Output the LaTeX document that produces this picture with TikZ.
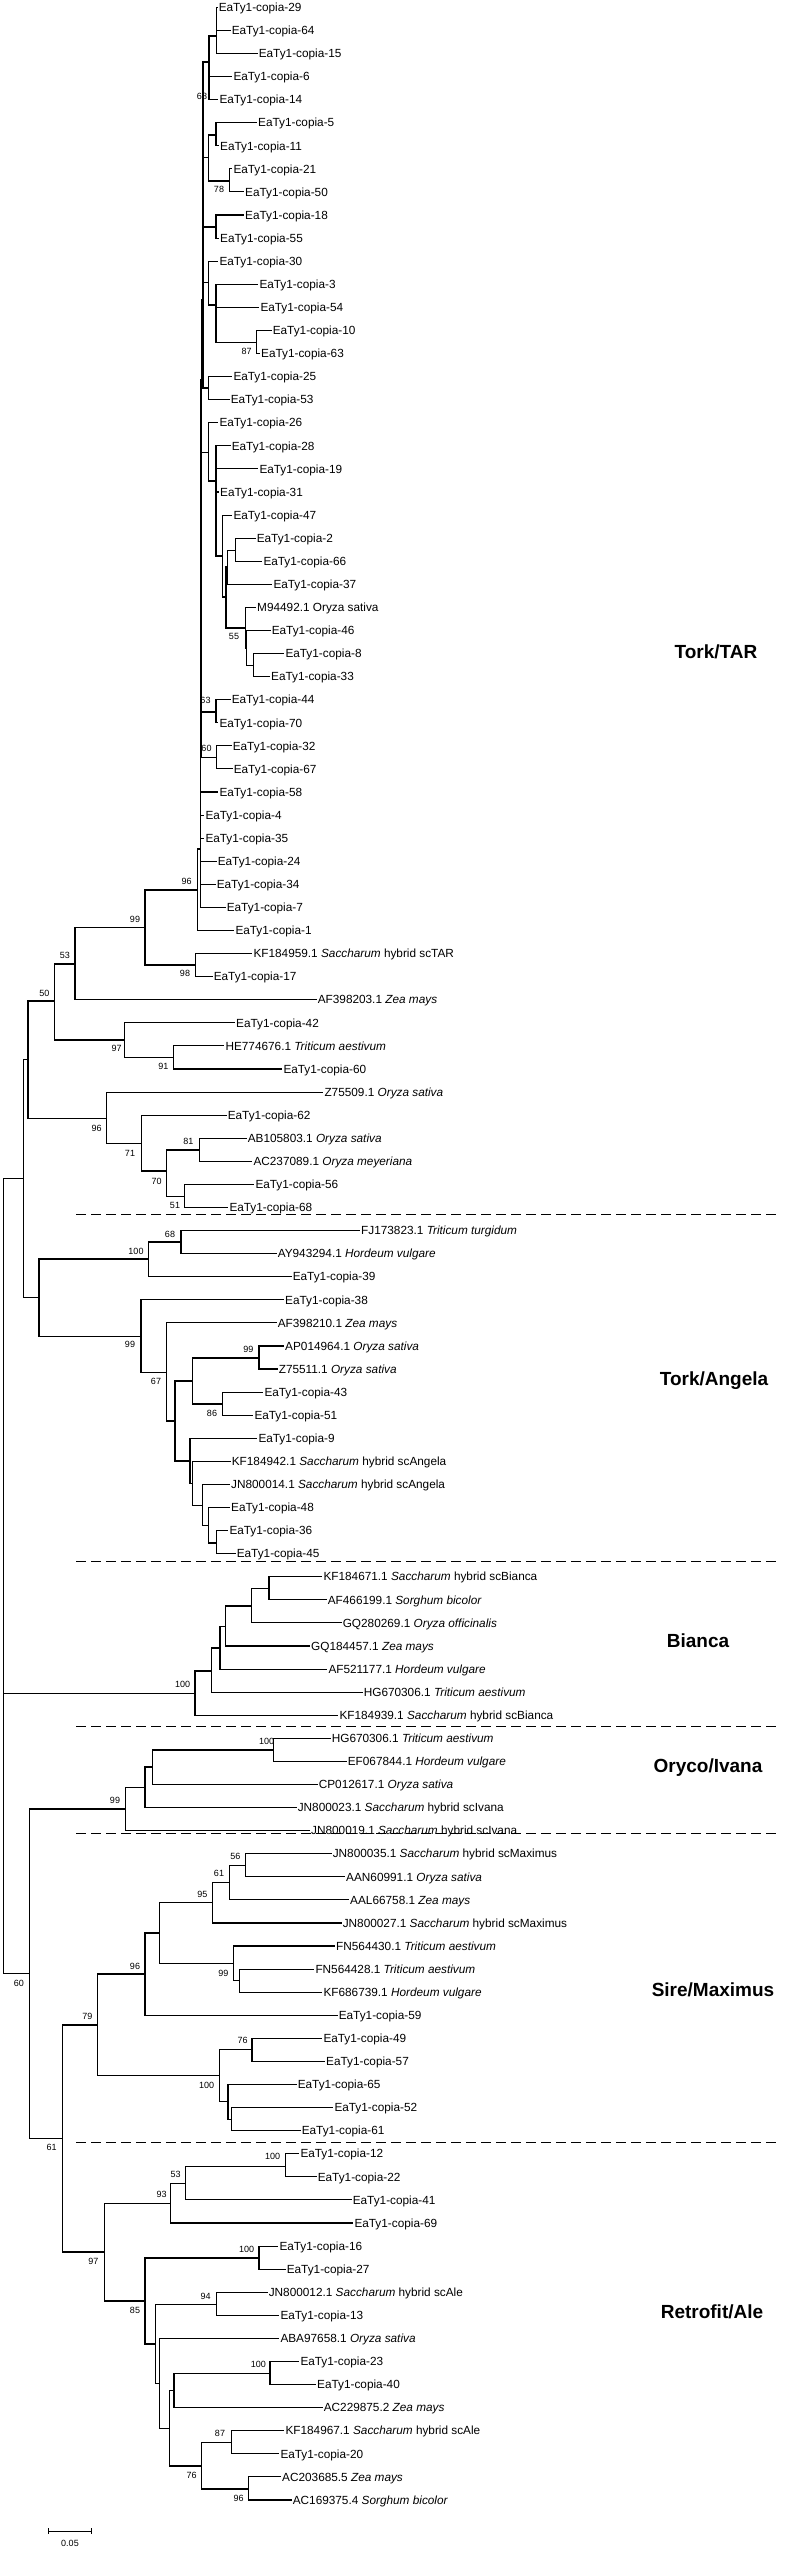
\documentclass[tikz,border=0pt]{standalone}
\usepackage{fontspec}
\setmainfont{Liberation Sans}
\newcommand{\tleaf}[4]{\coordinate (#1) at (#2,{23.08*#3-15.78});\node[lf] (#1t) at (#1) {#4};}
\newcommand{\inode}[3]{\coordinate (#1) at (#2,#3);}
\newcommand{\tbr}[2]{%
  \gdef\tfirst{}%
  \foreach \ch in {#2}{\ifx\tfirst\empty\xdef\tfirst{\ch}\fi\xdef\tlast{\ch}\draw[tl] (#1 |- \ch) -- (\ch);}%
  \draw[tl] (#1 |- \tfirst) -- (#1 |- \tlast);}
\newcounter{bsn}
\newcommand{\bsv}[3]{\stepcounter{bsn}\node[bsl] (bs\arabic{bsn}) at (#1,#2) {#3};}
\begin{document}
\begin{tikzpicture}[x=1pt,y=-1pt,
  tl/.style={line width=1.1pt,line cap=rect},
  lf/.style={anchor=west,inner xsep=1.6pt,inner ysep=0pt,text height=8.45pt,text depth=0pt,font=\fontsize{11.8}{13}\selectfont},
  bsl/.style={inner sep=0pt,text height=6.4pt,text depth=0pt,font=\fontsize{9}{10}\selectfont},
  clab/.style={inner sep=0pt,font=\fontsize{19}{22}\selectfont\bfseries},
  sep/.style={line width=1.3pt,dash pattern=on 10pt off 5pt}]
\useasboundingbox (0,0) rectangle (810,2550);
% ---------- leaves ----------
\tleaf{L29}{217}{1}{EaTy1-copia-29}
\tleaf{L64}{230}{2}{EaTy1-copia-64}
\tleaf{L15}{257}{3}{EaTy1-copia-15}
\tleaf{L6}{231.7}{4}{EaTy1-copia-6}
\tleaf{L14}{217.7}{5}{EaTy1-copia-14}
\tleaf{L5}{256.4}{6}{EaTy1-copia-5}
\tleaf{L11}{218.4}{7}{EaTy1-copia-11}
\tleaf{L21}{231.7}{8}{EaTy1-copia-21}
\tleaf{L50}{243.4}{9}{EaTy1-copia-50}
\tleaf{L18}{243.4}{10}{EaTy1-copia-18}
\tleaf{L55}{218.4}{11}{EaTy1-copia-55}
\tleaf{L30}{217.7}{12}{EaTy1-copia-30}
\tleaf{L3}{257.7}{13}{EaTy1-copia-3}
\tleaf{L54}{258.7}{14}{EaTy1-copia-54}
\tleaf{L10}{271}{15}{EaTy1-copia-10}
\tleaf{L63}{259.4}{16}{EaTy1-copia-63}
\tleaf{L25}{231.7}{17}{EaTy1-copia-25}
\tleaf{L53}{229}{18}{EaTy1-copia-53}
\tleaf{L26}{217.7}{19}{EaTy1-copia-26}
\tleaf{L28}{230}{20}{EaTy1-copia-28}
\tleaf{L19}{257.7}{21}{EaTy1-copia-19}
\tleaf{L31}{218.4}{22}{EaTy1-copia-31}
\tleaf{L47}{231.7}{23}{EaTy1-copia-47}
\tleaf{L2}{255}{24}{EaTy1-copia-2}
\tleaf{L66}{261.7}{25}{EaTy1-copia-66}
\tleaf{L37}{271.7}{26}{EaTy1-copia-37}
\tleaf{LMa}{255.4}{27}{M94492.1 Oryza sativa}
\tleaf{L46}{270}{28}{EaTy1-copia-46}
\tleaf{L8}{283.7}{29}{EaTy1-copia-8}
\tleaf{L33}{269.4}{30}{EaTy1-copia-33}
\tleaf{L44}{230}{31}{EaTy1-copia-44}
\tleaf{L70}{217.7}{32}{EaTy1-copia-70}
\tleaf{L32}{231}{33}{EaTy1-copia-32}
\tleaf{L67}{232}{34}{EaTy1-copia-67}
\tleaf{L58}{217.7}{35}{EaTy1-copia-58}
\tleaf{L4}{203.7}{36}{EaTy1-copia-4}
\tleaf{L35}{203.7}{37}{EaTy1-copia-35}
\tleaf{L24}{216}{38}{EaTy1-copia-24}
\tleaf{L34}{215}{39}{EaTy1-copia-34}
\tleaf{L7}{225}{40}{EaTy1-copia-7}
\tleaf{L1}{233.7}{41}{EaTy1-copia-1}
\tleaf{LKFa}{251.7}{42}{KF184959.1 \textit{Saccharum} hybrid scTAR}
\tleaf{L17}{212}{43}{EaTy1-copia-17}
\tleaf{LAFa}{316}{44}{AF398203.1 \textit{Zea mays}}
\tleaf{L42}{234.4}{45}{EaTy1-copia-42}
\tleaf{LHE}{223.7}{46}{HE774676.1 \textit{Triticum aestivum}}
\tleaf{L60}{281.7}{47}{EaTy1-copia-60}
\tleaf{LZa}{322.7}{48}{Z75509.1 \textit{Oryza sativa}}
\tleaf{L62}{226}{49}{EaTy1-copia-62}
\tleaf{LAB}{246}{50}{AB105803.1 \textit{Oryza sativa}}
\tleaf{LACa}{251.7}{51}{AC237089.1 \textit{Oryza meyeriana}}
\tleaf{L56}{253.7}{52}{EaTy1-copia-56}
\tleaf{L68}{227.7}{53}{EaTy1-copia-68}
\tleaf{LFJ}{359.4}{54}{FJ173823.1 \textit{Triticum turgidum}}
\tleaf{LAY}{276}{55}{AY943294.1 \textit{Hordeum vulgare}}
\tleaf{L39}{291}{56}{EaTy1-copia-39}
\tleaf{L38}{283.4}{57}{EaTy1-copia-38}
\tleaf{LAFb}{276}{58}{AF398210.1 \textit{Zea mays}}
\tleaf{LAP}{283.4}{59}{AP014964.1 \textit{Oryza sativa}}
\tleaf{LZb}{277}{60}{Z75511.1 \textit{Oryza sativa}}
\tleaf{L43}{262.7}{61}{EaTy1-copia-43}
\tleaf{L51}{252.7}{62}{EaTy1-copia-51}
\tleaf{L9}{256.7}{63}{EaTy1-copia-9}
\tleaf{LKFb}{230}{64}{KF184942.1 \textit{Saccharum} hybrid scAngela}
\tleaf{LJNa}{229.4}{65}{JN800014.1 \textit{Saccharum} hybrid scAngela}
\tleaf{L48}{229.4}{66}{EaTy1-copia-48}
\tleaf{L36}{227.7}{67}{EaTy1-copia-36}
\tleaf{L45}{235}{68}{EaTy1-copia-45}
\tleaf{LKFc}{321.7}{69}{KF184671.1 \textit{Saccharum} hybrid scBianca}
\tleaf{LAFc}{326}{70}{AF466199.1 \textit{Sorghum bicolor}}
\tleaf{LGQa}{341}{71}{GQ280269.1 \textit{Oryza officinalis}}
\tleaf{LGQb}{309.4}{72}{GQ184457.1 \textit{Zea mays}}
\tleaf{LAFd}{326.7}{73}{AF521177.1 \textit{Hordeum vulgare}}
\tleaf{LHGa}{362}{74}{HG670306.1 \textit{Triticum aestivum}}
\tleaf{LKFd}{337.7}{75}{KF184939.1 \textit{Saccharum} hybrid scBianca}
\tleaf{LHGb}{330}{76}{HG670306.1 \textit{Triticum aestivum}}
\tleaf{LEF}{346}{77}{EF067844.1 \textit{Hordeum vulgare}}
\tleaf{LCP}{317}{78}{CP012617.1 \textit{Oryza sativa}}
\tleaf{LJNb}{296}{79}{JN800023.1 \textit{Saccharum} hybrid scIvana}
\tleaf{LJNc}{309.4}{80}{JN800019.1 \textit{Saccharum} hybrid scIvana}
\tleaf{LJNd}{331}{81}{JN800035.1 \textit{Saccharum} hybrid scMaximus}
\tleaf{LAAN}{344.4}{82}{AAN60991.1 \textit{Oryza sativa}}
\tleaf{LAAL}{348.4}{83}{AAL66758.1 \textit{Zea mays}}
\tleaf{LJNe}{341}{84}{JN800027.1 \textit{Saccharum} hybrid scMaximus}
\tleaf{LFNa}{334.4}{85}{FN564430.1 \textit{Triticum aestivum}}
\tleaf{LFNb}{313.7}{86}{FN564428.1 \textit{Triticum aestivum}}
\tleaf{LKFe}{321.7}{87}{KF686739.1 \textit{Hordeum vulgare}}
\tleaf{L59}{337}{88}{EaTy1-copia-59}
\tleaf{L49}{321.7}{89}{EaTy1-copia-49}
\tleaf{L57}{324.4}{90}{EaTy1-copia-57}
\tleaf{L65}{296}{91}{EaTy1-copia-65}
\tleaf{L52}{332.7}{92}{EaTy1-copia-52}
\tleaf{L61}{300}{93}{EaTy1-copia-61}
\tleaf{L12}{298.7}{94}{EaTy1-copia-12}
\tleaf{L22}{316}{95}{EaTy1-copia-22}
\tleaf{L41}{351}{96}{EaTy1-copia-41}
\tleaf{L69}{352.7}{97}{EaTy1-copia-69}
\tleaf{L16}{277.7}{98}{EaTy1-copia-16}
\tleaf{L27}{285}{99}{EaTy1-copia-27}
\tleaf{LJNf}{267}{100}{JN800012.1 \textit{Saccharum} hybrid scAle}
\tleaf{L13}{278.7}{101}{EaTy1-copia-13}
\tleaf{LABA}{278.7}{102}{ABA97658.1 \textit{Oryza sativa}}
\tleaf{L23}{298.7}{103}{EaTy1-copia-23}
\tleaf{L40}{315.4}{104}{EaTy1-copia-40}
\tleaf{LACb}{322}{105}{AC229875.2 \textit{Zea mays}}
\tleaf{LKFf}{283.7}{106}{KF184967.1 \textit{Saccharum} hybrid scAle}
\tleaf{L20}{278.7}{107}{EaTy1-copia-20}
\tleaf{LACc}{280.4}{108}{AC203685.5 \textit{Zea mays}}
\tleaf{LACd}{291}{109}{AC169375.4 \textit{Sorghum bicolor}}
% ---------- internal nodes ----------
\inode{a1}{216.7}{19.3}
\inode{a}{216.3}{36}
\inode{b}{209}{88.7}
\inode{c}{209}{62}
\inode{e}{208.3}{157.7}
\inode{d}{216}{135}
\inode{f}{229.3}{181}
\inode{nsx}{203}{110}
\inode{g}{216}{227}
\inode{j}{256.7}{342.3}
\inode{i}{216}{305}
\inode{h}{208.3}{282.7}
\inode{k}{208.3}{388}
\inode{sa}{203}{300}
\inode{t}{235.3}{550.3}
\inode{q}{227.3}{567}
\inode{s}{253.7}{665.7}
\inode{ra}{246.7}{648.3}
\inode{r}{245.3}{628}
\inode{p}{226}{597}
\inode{o}{222.7}{556}
\inode{m}{216}{481}
\inode{l}{208.3}{452.3}
\inode{sb}{201.7}{380}
\inode{u}{216}{712}
\inode{v}{216.7}{757.7}
\inode{sc}{201}{600}
\inode{sd}{200.3}{849}
\inode{nA}{197.5}{890}
\inode{nB}{195.7}{965}
\inode{nC}{145}{927.7}
\inode{nD}{75}{964}
\inode{nE}{173.3}{1057.7}
\inode{nF}{124.7}{1040}
\inode{nG}{54.3}{1001}
\inode{nH}{199.7}{1150}
\inode{nI}{184.3}{1196.7}
\inode{nJ}{166.7}{1171}
\inode{nK}{141.7}{1143.3}
\inode{nL}{106.7}{1118.3}
\inode{nX}{28}{1059.7}
\inode{nU}{23.3}{1178.7}
\inode{aa}{181}{1242}
\inode{ab}{148.3}{1259}
\inode{ac}{259}{1358}
\inode{ad}{222.3}{1404}
\inode{ae}{192.3}{1381}
\inode{af}{216.7}{1543}
\inode{ag}{208.3}{1525.8}
\inode{ah}{202.7}{1505.5}
\inode{ai}{192.7}{1483.4}
\inode{aj}{190}{1461}
\inode{ak}{175}{1421}
\inode{al}{166.3}{1372.5}
\inode{am}{141}{1336.6}
\inode{nW}{39}{1297.8}
\inode{be}{269}{1588.7}
\inode{bd}{251.7}{1606}
\inode{bc}{225.3}{1626.3}
\inode{bb}{220}{1648}
\inode{ba}{211.7}{1671}
\inode{bz}{195}{1693.5}
\inode{oc}{273.7}{1750}
\inode{ob}{152.3}{1767}
\inode{oa}{145}{1787.3}
\inode{oz}{125.7}{1809}
\inode{ma}{245.7}{1865.3}
\inode{mb}{229.3}{1882.5}
\inode{mc}{212.7}{1902.7}
\inode{md}{239.3}{1980.5}
\inode{me}{233.3}{1963.2}
\inode{mf}{159.7}{1933}
\inode{mg}{145}{1974}
\inode{mh}{252}{2049.9}
\inode{mi}{231.7}{2119.2}
\inode{mj}{228}{2101.8}
\inode{mk}{219.7}{2075.9}
\inode{mz}{97.7}{2025}
\inode{ra1}{285.3}{2166.4}
\inode{ra2}{185.3}{2183.3}
\inode{ra3}{170.7}{2203.3}
\inode{ra4}{259}{2258}
\inode{ra5}{216.7}{2304.6}
\inode{ra6}{270}{2373.5}
\inode{ra7}{174}{2390.7}
\inode{ra8}{231.7}{2442.9}
\inode{ra9}{248.7}{2489}
\inode{rb1}{201.7}{2466}
\inode{rb2}{169.3}{2428.4}
\inode{rb3}{159.3}{2383.6}
\inode{rb4}{155.7}{2344}
\inode{rb5}{145}{2301}
\inode{rb6}{104.7}{2252}
\inode{nM}{62.7}{2138.5}
\inode{nN}{29.7}{1973.8}
\inode{root}{3.3}{1576}
% ---------- branches (children listed top to bottom) ----------
\tbr{a1}{L29,L64}
\tbr{a}{a1,L15}
\tbr{b}{L6,L14}
\tbr{c}{a,b}
\tbr{d}{L5,L11}
\tbr{f}{L21,L50}
\tbr{e}{d,f}
\tbr{nsx}{c,e}
\tbr{g}{L18,L55}
\tbr{j}{L10,L63}
\tbr{i}{L3,L54,j}
\tbr{h}{L30,i}
\tbr{k}{L25,L53}
\tbr{sa}{nsx,g,h,k}
\tbr{t}{L2,L66}
\tbr{q}{t,L37}
\tbr{s}{L8,L33}
\tbr{ra}{L46,s}
\tbr{r}{LMa,ra}
\tbr{p}{q,r}
\tbr{o}{L47,p}
\tbr{m}{L28,L19,L31,o}
\tbr{l}{L26,m}
\tbr{sb}{sa,l}
\tbr{u}{L44,L70}
\tbr{v}{L32,L67}
\tbr{sc}{sb,u,v}
\tbr{sd}{sc,L58,L4,L35,L24,L34,L7}
\tbr{nA}{sd,L1}
\tbr{nB}{LKFa,L17}
\tbr{nC}{nA,nB}
\tbr{nD}{nC,LAFa}
\tbr{nE}{LHE,L60}
\tbr{nF}{L42,nE}
\tbr{nG}{nD,nF}
\tbr{nH}{LAB,LACa}
\tbr{nI}{L56,L68}
\tbr{nJ}{nH,nI}
\tbr{nK}{L62,nJ}
\tbr{nL}{LZa,nK}
\tbr{nX}{nG,nL}
\tbr{aa}{LFJ,LAY}
\tbr{ab}{aa,L39}
\tbr{ac}{LAP,LZb}
\tbr{ad}{L43,L51}
\tbr{ae}{ac,ad}
\tbr{af}{L36,L45}
\tbr{ag}{L48,af}
\tbr{ah}{LJNa,ag}
\tbr{ai}{LKFb,ah}
\tbr{aj}{L9,ai}
\tbr{ak}{ae,aj}
\tbr{al}{LAFb,ak}
\tbr{am}{L38,al}
\tbr{nW}{ab,am}
\tbr{nU}{nX,nW}
\tbr{be}{LKFc,LAFc}
\tbr{bd}{be,LGQa}
\tbr{bc}{bd,LGQb}
\tbr{bb}{bc,LAFd}
\tbr{ba}{bb,LHGa}
\tbr{bz}{ba,LKFd}
\tbr{oc}{LHGb,LEF}
\tbr{ob}{oc,LCP}
\tbr{oa}{ob,LJNb}
\tbr{oz}{oa,LJNc}
\tbr{ma}{LJNd,LAAN}
\tbr{mb}{ma,LAAL}
\tbr{mc}{mb,LJNe}
\tbr{md}{LFNb,LKFe}
\tbr{me}{LFNa,md}
\tbr{mf}{mc,me}
\tbr{mg}{mf,L59}
\tbr{mh}{L49,L57}
\tbr{mi}{L52,L61}
\tbr{mj}{L65,mi}
\tbr{mk}{mh,mj}
\tbr{mz}{mg,mk}
\tbr{ra1}{L12,L22}
\tbr{ra2}{ra1,L41}
\tbr{ra3}{ra2,L69}
\tbr{ra4}{L16,L27}
\tbr{ra5}{LJNf,L13}
\tbr{ra6}{L23,L40}
\tbr{ra7}{ra6,LACb}
\tbr{ra8}{LKFf,L20}
\tbr{ra9}{LACc,LACd}
\tbr{rb1}{ra8,ra9}
\tbr{rb2}{ra7,rb1}
\tbr{rb3}{LABA,rb2}
\tbr{rb4}{ra5,rb3}
\tbr{rb5}{ra4,rb4}
\tbr{rb6}{ra3,rb5}
\tbr{nM}{mz,rb6}
\tbr{nN}{oz,nM}
\tbr{root}{nU,bz,nN}
% ---------- bootstrap values ----------
\bsv{202}{96.7}{68}
\bsv{219}{189.3}{78}
\bsv{246.7}{351.7}{87}
\bsv{234}{636.7}{55}
\bsv{205.5}{700.7}{63}
\bsv{206.5}{748.3}{60}
\bsv{186.7}{881.7}{96}
\bsv{135}{919}{99}
\bsv{65}{955.7}{53}
\bsv{44.3}{993.3}{50}
\bsv{185}{973.3}{98}
\bsv{116.7}{1048.3}{97}
\bsv{163.3}{1066}{91}
\bsv{96.7}{1128.3}{96}
\bsv{130}{1153.3}{71}
\bsv{156.7}{1181.7}{70}
\bsv{188.3}{1141.7}{81}
\bsv{175}{1205}{51}
\bsv{170}{1234.3}{68}
\bsv{136}{1251}{100}
\bsv{130}{1344}{99}
\bsv{156}{1381}{67}
\bsv{248.3}{1349.3}{99}
\bsv{212}{1413.3}{86}
\bsv{182.7}{1684}{100}
\bsv{266.7}{1741.7}{100}
\bsv{115}{1800.7}{99}
\bsv{235.3}{1856.7}{56}
\bsv{219}{1873.3}{61}
\bsv{202.3}{1894}{95}
\bsv{135}{1966}{96}
\bsv{223.3}{1973.3}{99}
\bsv{87.3}{2016}{79}
\bsv{19}{1983.3}{60}
\bsv{242.7}{2040.7}{76}
\bsv{206.7}{2085}{100}
\bsv{51.7}{2147.3}{61}
\bsv{272.7}{2156.7}{100}
\bsv{175.7}{2174}{53}
\bsv{161.7}{2194.3}{93}
\bsv{93.3}{2261}{97}
\bsv{246.7}{2249}{100}
\bsv{205.7}{2296}{94}
\bsv{135}{2310}{85}
\bsv{258.3}{2364.3}{100}
\bsv{220}{2433.3}{87}
\bsv{191.7}{2475}{76}
\bsv{238.7}{2498.3}{96}
% ---------- group separators ----------
\coordinate (s1a) at (76,1214.7); \coordinate (s1b) at (778,1214.7);
\coordinate (s2a) at (76,1561.3); \coordinate (s2b) at (778,1561.3);
\coordinate (s3a) at (76,1726.7); \coordinate (s3b) at (778,1726.7);
\coordinate (s4a) at (76,1833.3); \coordinate (s4b) at (778,1833.3);
\coordinate (s5a) at (76,2142.7); \coordinate (s5b) at (778,2142.7);
\draw[sep] (s1a) -- (s1b);
\draw[sep] (s2a) -- (s2b);
\draw[sep] (s3a) -- (s3b);
\draw[sep] (s4a) -- (s4b);
\draw[sep] (s5a) -- (s5b);
% ---------- clade labels ----------
\node[clab] (cTAR) at (716,652) {Tork/TAR};
\node[clab] (cAng) at (714,1381) {Tork/Angela};
\node[clab] (cBia) at (698,1641) {Bianca};
\node[clab] (cOry) at (708,1768) {Oryco/Ivana};
\node[clab] (cSir) at (713,1990) {Sire/Maximus};
\node[clab] (cRet) at (712,2312) {Retrofit/Ale};
% ---------- scale bar ----------
\coordinate (sbl) at (48.3,2531.3); \coordinate (sbr) at (91.7,2531.3);
\draw[line width=1.1pt] (sbl) -- (sbr);
\draw[line width=1.1pt] ([yshift=3pt]sbl) -- ([yshift=-3pt]sbl);
\draw[line width=1.1pt] ([yshift=3pt]sbr) -- ([yshift=-3pt]sbr);
\node[bsl] (sbt) at (70,2543.3) {0.05};
\end{tikzpicture}
\end{document}
